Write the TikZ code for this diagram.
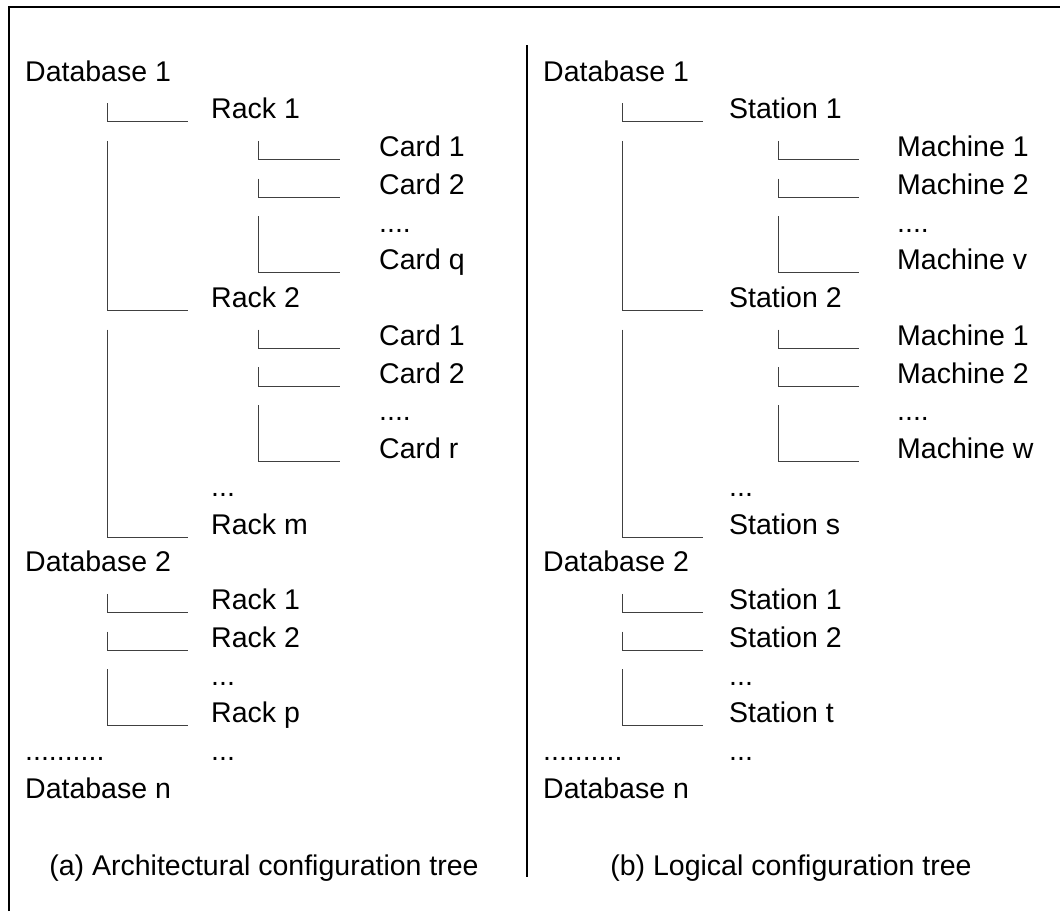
\documentclass[tikz,border=0pt]{standalone}
\usepackage{fontspec}
\setmainfont{Liberation Sans}
\usetikzlibrary{calc}
\tikzset{
  treeitem/.style={anchor=base west,inner sep=0pt,font=\fontsize{28.5}{34}\selectfont},
  treecap/.style={anchor=base,inner sep=0pt,font=\fontsize{28.5}{34}\selectfont},
  treeline/.style={draw=black!75,line width=0.9pt},
  framerule/.style={draw=black,line width=2.5pt}
}

\begin{document}
\begin{tikzpicture}[x=1pt,y=-1pt]
  \useasboundingbox (0,0) rectangle (1060,911);
  % frame and divider
  \draw[framerule] (9,911) -- (9,7) -- (1060,7);
  \draw[line width=2pt] (527,45) -- (527,877);

  % (a) architectural tree
  \node[treeitem] (adb1) at (25,81) {Database 1};
  \node[treeitem] (ar1) at (211,118.75) {Rack 1};
  \node[treeitem] (ar1c1) at (379,156.5) {Card 1};
  \node[treeitem] (ar1c2) at (379,194.25) {Card 2};
  \node[treeitem] (ar1cx) at (379,232) {....};
  \node[treeitem] (ar1cq) at (379,269.75) {Card q};
  \node[treeitem] (ar2) at (211,307.5) {Rack 2};
  \node[treeitem] (ar2c1) at (379,345.25) {Card 1};
  \node[treeitem] (ar2c2) at (379,383) {Card 2};
  \node[treeitem] (ar2cx) at (379,420.75) {....};
  \node[treeitem] (ar2cr) at (379,458.5) {Card r};
  \node[treeitem] (arx) at (211,496.25) {...};
  \node[treeitem] (arm) at (211,534) {Rack m};
  \node[treeitem] (adb2) at (25,571.75) {Database 2};
  \node[treeitem] (adb2r1) at (211,609.5) {Rack 1};
  \node[treeitem] (adb2r2) at (211,647.25) {Rack 2};
  \node[treeitem] (adb2rx) at (211,685) {...};
  \node[treeitem] (adb2rp) at (211,722.75) {Rack p};
  \node[treeitem] (adbx) at (25,760.5) {..........};
  \node[treeitem] (adbxr) at (211,760.5) {...};
  \node[treeitem] (adbn) at (25,798.25) {Database n};

  \draw[treeline] ($(adb1.base -| ar1.base west)+(-104,22)$) |- ($(ar1.base west)+(-23,3)$);
  \draw[treeline] ($(ar1.base -| ar1c1.base west)+(-121,22)$) |- ($(ar1c1.base west)+(-39,3)$);
  \draw[treeline] ($(ar1c1.base -| ar1c2.base west)+(-121,22)$) |- ($(ar1c2.base west)+(-39,3)$);
  \draw[treeline] ($(ar1c2.base -| ar1cq.base west)+(-121,22)$) |- ($(ar1cq.base west)+(-39,3)$);
  \draw[treeline] ($(ar1.base -| ar2.base west)+(-104,22)$) |- ($(ar2.base west)+(-23,3)$);
  \draw[treeline] ($(ar2.base -| ar2c1.base west)+(-121,22)$) |- ($(ar2c1.base west)+(-39,3)$);
  \draw[treeline] ($(ar2c1.base -| ar2c2.base west)+(-121,22)$) |- ($(ar2c2.base west)+(-39,3)$);
  \draw[treeline] ($(ar2c2.base -| ar2cr.base west)+(-121,22)$) |- ($(ar2cr.base west)+(-39,3)$);
  \draw[treeline] ($(ar2.base -| arm.base west)+(-104,22)$) |- ($(arm.base west)+(-23,3)$);
  \draw[treeline] ($(adb2.base -| adb2r1.base west)+(-104,22)$) |- ($(adb2r1.base west)+(-23,3)$);
  \draw[treeline] ($(adb2r1.base -| adb2r2.base west)+(-104,22)$) |- ($(adb2r2.base west)+(-23,3)$);
  \draw[treeline] ($(adb2r2.base -| adb2rp.base west)+(-104,22)$) |- ($(adb2rp.base west)+(-23,3)$);

  % (b) logical tree
  \node[treeitem] (bdb1) at (543,81) {Database 1};
  \node[treeitem] (bs1) at (729,118.75) {Station 1};
  \node[treeitem] (bs1m1) at (897,156.5) {Machine 1};
  \node[treeitem] (bs1m2) at (897,194.25) {Machine 2};
  \node[treeitem] (bs1mx) at (897,232) {....};
  \node[treeitem] (bs1mv) at (897,269.75) {Machine v};
  \node[treeitem] (bs2) at (729,307.5) {Station 2};
  \node[treeitem] (bs2m1) at (897,345.25) {Machine 1};
  \node[treeitem] (bs2m2) at (897,383) {Machine 2};
  \node[treeitem] (bs2mx) at (897,420.75) {....};
  \node[treeitem] (bs2mw) at (897,458.5) {Machine w};
  \node[treeitem] (bsx) at (729,496.25) {...};
  \node[treeitem] (bss) at (729,534) {Station s};
  \node[treeitem] (bdb2) at (543,571.75) {Database 2};
  \node[treeitem] (bdb2s1) at (729,609.5) {Station 1};
  \node[treeitem] (bdb2s2) at (729,647.25) {Station 2};
  \node[treeitem] (bdb2sx) at (729,685) {...};
  \node[treeitem] (bdb2st) at (729,722.75) {Station t};
  \node[treeitem] (bdbx) at (543,760.5) {..........};
  \node[treeitem] (bdbxs) at (729,760.5) {...};
  \node[treeitem] (bdbn) at (543,798.25) {Database n};

  \draw[treeline] ($(bdb1.base -| bs1.base west)+(-107,22)$) |- ($(bs1.base west)+(-26,3)$);
  \draw[treeline] ($(bs1.base -| bs1m1.base west)+(-119,22)$) |- ($(bs1m1.base west)+(-38,3)$);
  \draw[treeline] ($(bs1m1.base -| bs1m2.base west)+(-119,22)$) |- ($(bs1m2.base west)+(-38,3)$);
  \draw[treeline] ($(bs1m2.base -| bs1mv.base west)+(-119,22)$) |- ($(bs1mv.base west)+(-38,3)$);
  \draw[treeline] ($(bs1.base -| bs2.base west)+(-107,22)$) |- ($(bs2.base west)+(-26,3)$);
  \draw[treeline] ($(bs2.base -| bs2m1.base west)+(-119,22)$) |- ($(bs2m1.base west)+(-38,3)$);
  \draw[treeline] ($(bs2m1.base -| bs2m2.base west)+(-119,22)$) |- ($(bs2m2.base west)+(-38,3)$);
  \draw[treeline] ($(bs2m2.base -| bs2mw.base west)+(-119,22)$) |- ($(bs2mw.base west)+(-38,3)$);
  \draw[treeline] ($(bs2.base -| bss.base west)+(-107,22)$) |- ($(bss.base west)+(-26,3)$);
  \draw[treeline] ($(bdb2.base -| bdb2s1.base west)+(-107,22)$) |- ($(bdb2s1.base west)+(-26,3)$);
  \draw[treeline] ($(bdb2s1.base -| bdb2s2.base west)+(-107,22)$) |- ($(bdb2s2.base west)+(-26,3)$);
  \draw[treeline] ($(bdb2s2.base -| bdb2st.base west)+(-107,22)$) |- ($(bdb2st.base west)+(-26,3)$);

  % captions
  \node[treecap] (capa) at (264,875) {(a) Architectural configuration tree};
  \node[treecap] (capb) at (791,875) {(b) Logical configuration tree};
\end{tikzpicture}
\end{document}
